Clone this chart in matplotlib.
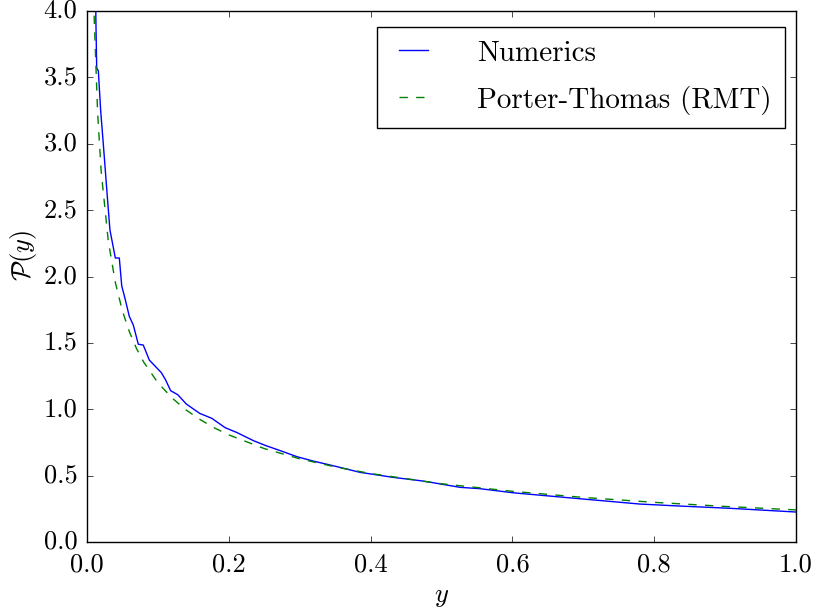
import matplotlib
matplotlib.use('Agg')
import matplotlib.pyplot as plt

plt.style.use('classic')
plt.rcParams['font.family'] = 'serif'
plt.rcParams['font.serif'] = ['cmr10', 'DejaVu Serif']
plt.rcParams['mathtext.fontset'] = 'cm'
plt.rcParams['axes.formatter.use_mathtext'] = True
plt.rcParams['axes.unicode_minus'] = False

# numerical histogram of y
num_x = [0.0, 0.001, 0.0125, 0.0137, 0.016, 0.0193, 0.023, 0.029, 0.0324, 0.040,
         0.0456, 0.049, 0.0536, 0.0597, 0.0653, 0.0724, 0.0794, 0.0879, 0.105,
         0.111, 0.118, 0.128, 0.140, 0.159, 0.176, 0.195, 0.211, 0.235, 0.253,
         0.277, 0.296, 0.319, 0.347, 0.385, 0.432, 0.470, 0.488, 0.526, 0.554,
         0.601, 0.672, 0.742, 0.780, 0.836, 0.907, 1.0]
num_y = [0.0, 40.0, 3.95, 3.57, 3.55, 3.25, 3.0, 2.58, 2.35, 2.14,
         2.14, 1.93, 1.835, 1.70, 1.635, 1.49, 1.484, 1.371, 1.275,
         1.22, 1.14, 1.11, 1.04, 0.969, 0.932, 0.861, 0.826, 0.763, 0.725,
         0.680, 0.643, 0.610, 0.575, 0.525, 0.487, 0.462, 0.447, 0.412, 0.402,
         0.371, 0.337, 0.304, 0.286, 0.271, 0.254, 0.226]

# Porter-Thomas curve
pt_x = [0.005, 0.01, 0.015, 0.02, 0.03, 0.04, 0.05, 0.06, 0.07, 0.08, 0.1,
        0.12, 0.14, 0.16, 0.18, 0.2, 0.25, 0.3, 0.35, 0.4, 0.5, 0.6, 0.7,
        0.8, 0.9, 1.0]
pt_y = [5.63, 3.97, 3.233, 2.793, 2.269, 1.955, 1.740, 1.581, 1.456, 1.355,
        1.200, 1.085, 0.994, 0.921, 0.859, 0.807, 0.704, 0.627, 0.566, 0.516,
        0.439, 0.382, 0.336, 0.299, 0.268, 0.242]

fig = plt.figure(figsize=(8.16, 6.16), dpi=100, facecolor='white')
ax = fig.add_subplot(111)
fig.subplots_adjust(left=0.1066, right=0.9755, bottom=0.1201, top=0.982)

ax.plot(num_x, num_y, color='b', linestyle='-', linewidth=1.0, label='Numerics')
ax.plot(pt_x, pt_y, color='g', linestyle='--', linewidth=1.0, label='Porter-Thomas (RMT)')

ax.set_xlim(0, 1)
ax.set_ylim(0, 4)
ax.set_xticks([0.0, 0.2, 0.4, 0.6, 0.8, 1.0])
ax.set_yticks([0.0, 0.5, 1.0, 1.5, 2.0, 2.5, 3.0, 3.5, 4.0])
ax.set_xticklabels(['0.0', '0.2', '0.4', '0.6', '0.8', '1.0'])
ax.set_yticklabels(['0.0', '0.5', '1.0', '1.5', '2.0', '2.5', '3.0', '3.5', '4.0'])
ax.tick_params(labelsize=19)
ax.tick_params(axis='x', pad=8)
ax.tick_params(axis='y', pad=7)
ax.set_xlabel('$y$', fontsize=19, labelpad=6)
ax.set_ylabel(r'$\mathcal{P}(y)$', fontsize=19)
ax.yaxis.set_label_coords(-0.068, 0.539)

leg = ax.legend(loc='upper right', bbox_to_anchor=(0.9845, 0.97),
                fontsize=21, handlelength=1.6, handletextpad=1.4,
                labelspacing=0.65, borderpad=0.45, borderaxespad=0.0)
leg.get_frame().set_edgecolor('black')

fig.savefig('out.png', dpi=100, facecolor='white')
